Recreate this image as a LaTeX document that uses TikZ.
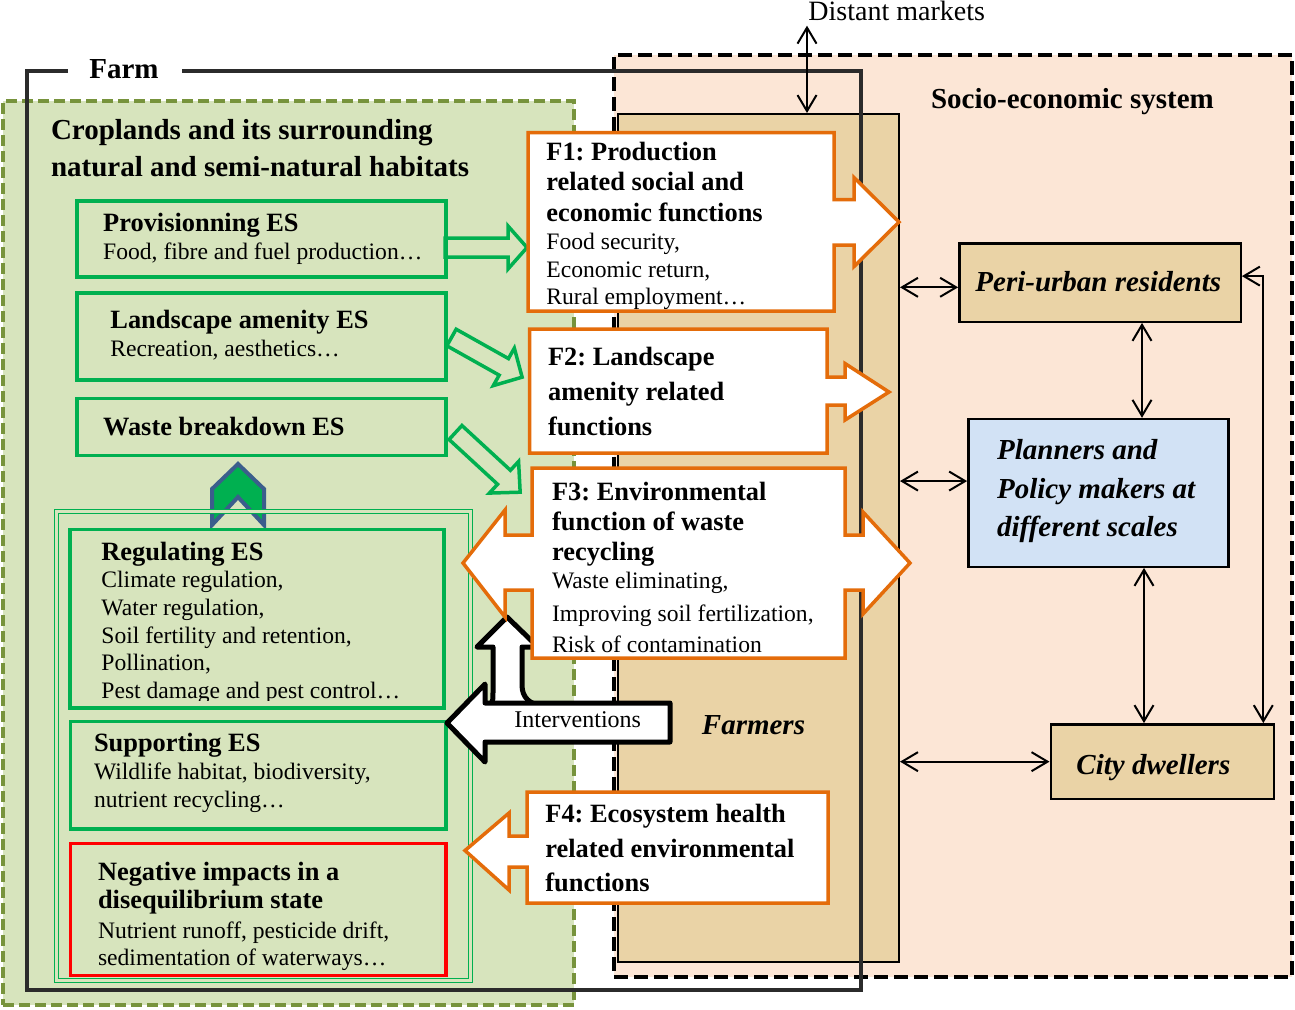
\documentclass[tikz,border=0pt]{standalone}
\usepackage{fontspec}
\setmainfont{Liberation Serif}
\usetikzlibrary{arrows.meta,fit,calc}
\definecolor{cropfill}{HTML}{D7E4BD}
\definecolor{cropline}{HTML}{77933C}
\definecolor{sociofill}{HTML}{FCE6D6}
\definecolor{tanfill}{HTML}{EAD3A6}
\definecolor{bluefill}{HTML}{D2E2F5}
\definecolor{esgreen}{HTML}{00B050}
\definecolor{forange}{HTML}{E46C0A}
\definecolor{chevblue}{HTML}{3B5E8C}
\definecolor{farmline}{HTML}{2B2B2B}
\frenchspacing
\begin{document}
\begin{tikzpicture}[x=0.5pt,y=-0.5pt,
  gbox/.style={draw=esgreen,line width=1.75pt,inner sep=0pt},
  redbox/.style={draw=red,line width=1.75pt,inner sep=0pt},
  actorbox/.style={draw=black,line width=1.2pt,inner sep=0pt},
  fshape/.style={draw=forange,fill=white,line width=1.75pt,line join=miter},
  garrow/.style={draw=esgreen,line width=1.75pt,line join=miter},
  blackarrow/.style={draw=black,fill=white,line width=2.5pt,line join=round},
  dbl/.style={{Straight Barb[length=8pt,width=9.5pt]}-{Straight Barb[length=8pt,width=9.5pt]},line width=1pt},
  headf/.style={font=\fontsize{13.2}{15}\selectfont\bfseries\frenchspacing,anchor=base west,inner sep=0pt},
  bodyf/.style={font=\fontsize{11.8}{14}\selectfont\frenchspacing,anchor=base west,inner sep=0pt},
  titlef/.style={font=\fontsize{14.5}{17}\selectfont\bfseries\frenchspacing,anchor=base west,inner sep=0pt},
  rlab/.style={font=\fontsize{14.5}{17}\selectfont\bfseries\itshape\frenchspacing,anchor=base west,inner sep=0pt}]
\useasboundingbox (0,0) rectangle (1295,1009);

% croplands area
\node[fit={(3,101) (574,1005)},inner sep=0pt,fill=cropfill,draw=cropline,line width=2pt,dash pattern=on 5.5pt off 2.5pt] (crop) {};
% socio-economic system
\node[fit={(614,55) (1292,977)},inner sep=0pt,fill=sociofill,draw=black,line width=2pt,dash pattern=on 7pt off 3pt] (socio) {};
% farmers column
\node[fit={(618,114) (899,962)},inner sep=0pt,fill=tanfill,draw=black,line width=1pt] (farmers) {};
% farm box
\draw[farmline,line width=2.25pt] (68,71) -- (27,71) -- (27,990) -- (861,990) -- (861,71) -- (182,71);
\node[titlef] (farmlab) at (89,78.3) {Farm};

% titles
\node[titlef] (crop1) at (50.6,139.3) {Croplands and its surrounding};
\node[titlef] (crop2) at (50.6,176.7) {natural and semi-natural habitats};
\node[titlef] (socio1) at (930.7,108.3) {Socio-economic system};

% ES boxes
\node[fit={(77,201) (446,277)},gbox] (prov) {};
\node[headf] (prov1) at (102.8,231.7) {Provisionning ES};
\node[bodyf] (prov2) at (102.8,259.3) {Food, fibre and fuel production…};
\node[fit={(77,293) (446,380)},gbox] (land) {};
\node[headf] (land1) at (110,328.3) {Landscape amenity ES};
\node[bodyf] (land2) at (110,356) {Recreation, aesthetics…};
\node[fit={(77,398.5) (446,455.5)},gbox] (waste) {};
\node[headf] (waste1) at (102.7,435) {Waste breakdown ES};

% chevron
\draw[draw=chevblue,fill=esgreen,line width=2pt,line join=miter] (212,525) -- (212,489) -- (238,464) -- (264,489) -- (264,525) -- (238,497) -- cycle;

% group box (double line)
\node[fit={(56.5,511.5) (470.5,980.5)},inner sep=0pt,draw=esgreen,double=cropfill,line width=0.7pt,double distance=1.3pt] (esgroup) {};

\node[headf] (reg0) at (101,560) {Regulating ES};
\node[bodyf] (reg1) at (101,587.7) {Climate regulation,};
\node[bodyf] (reg2) at (101,615.7) {Water regulation,};
\node[bodyf] (reg3) at (101,643.3) {Soil fertility and retention,};
\node[bodyf] (reg4) at (101,670.7) {Pollination,};
\begin{scope}
\clip (70,529) rectangle (444,700.5);
\node[bodyf] (reg5) at (101,698.3) {Pest damage and pest control…};
\end{scope}
\node[fit={(70,529.5) (444,708)},gbox] (reg) {};

\node[fit={(70.5,721.5) (446,829)},gbox] (sup) {};
\node[headf] (sup0) at (93.6,751.7) {Supporting ES};
\node[bodyf] (sup1) at (93.6,779.3) {Wildlife habitat, biodiversity,};
\node[bodyf] (sup2) at (93.6,807.3) {nutrient recycling…};

\node[fit={(70.5,843.5) (446,975.5)},redbox] (neg) {};
\node[headf] (neg0) at (97.6,880) {Negative impacts in a};
\node[headf] (neg1) at (97.6,908.3) {disequilibrium state};
\node[bodyf] (neg2) at (97.6,938.3) {Nutrient runoff, pesticide drift,};
\node[bodyf] (neg3) at (97.6,965.7) {sedimentation of waterways…};

% green hollow arrows
\draw[garrow,shift={(445,247.5)}] (0,-9.5) -- (63,-9.5) -- (63,-21.5) -- (82,0) -- (63,21.5) -- (63,9.5) -- (0,9.5) -- cycle;
\draw[garrow,shift={(451.5,337.5)},rotate=-29.3] (0,-9.5) -- (60,-9.5) -- (60,-21.5) -- (81,0) -- (60,21.5) -- (60,9.5) -- (0,9.5) -- cycle;
\draw[garrow,shift={(455.5,432.5)},rotate=-42.7] (0,-9.5) -- (66,-9.5) -- (66,-21.5) -- (88,0) -- (66,21.5) -- (66,9.5) -- (0,9.5) -- cycle;

% actors
\node[fit={(959.3,243.3) (1240.7,321.7)},actorbox,fill=tanfill] (peri) {};
\node[rlab] (peri1) at (975,291.5) {Peri-urban residents};
\node[fit={(968.3,419) (1228.3,566.7)},actorbox,fill=bluefill] (plan) {};
\node[rlab] (plan1) at (996.7,459.5) {Planners and};
\node[rlab] (plan2) at (996.7,498) {Policy makers at};
\node[rlab] (plan3) at (996.7,536.5) {different scales};
\node[fit={(1050.7,724.3) (1274,799)},actorbox,fill=tanfill] (city) {};
\node[rlab] (city1) at (1076,774.3) {City dwellers};
\node[rlab] (farm1) at (701.5,734) {Farmers};

% distant markets
\node[font=\fontsize{14}{16}\selectfont,anchor=base west,inner sep=0pt] (dm) at (808,20) {Distant markets};
\coordinate (dmx) at (807,0);
\draw[dbl] ([yshift=-2.5pt]dm.south -| dmx) -- (farmers.north -| dmx);

% actor connectors
\coordinate (ax1) at (1142,0);
\coordinate (ax2) at (1144,0);
\coordinate (ax3) at (1263.3,0);
\coordinate (pw) at ([yshift=-2.4pt]peri.west);
\coordinate (plw) at ([yshift=5.9pt]plan.west);
\coordinate (pe) at ([yshift=3.2pt]peri.east);
\draw[dbl] (pw -| farmers.east) -- (pw);
\draw[dbl] (plw -| farmers.east) -- (plw);
\draw[dbl] (city.west -| farmers.east) -- (city.west);
\draw[dbl] (peri.south -| ax1) -- (plan.north -| ax1);
\draw[dbl] (plan.south -| ax2) -- (city.north -| ax2);
\draw[dbl] (pe) -| (city.north -| ax3);

% interventions
\draw[blackarrow] (488,706) .. controls (493,702) .. (493,690) -- (493,647) -- (477,647) -- (507,617) -- (538,647) -- (522,647) -- (522,685) .. controls (522,698) and (530,704) .. (542,706);
\draw[blackarrow] (670,703) -- (670,742) -- (485,742) -- (485,762) -- (447,723) -- (485,684) -- (485,703) -- cycle;
\node[font=\fontsize{12}{14}\selectfont,anchor=base west,inner sep=0pt] (interv) at (514,727.3) {Interventions};

% F1
\draw[fshape] (528,132.5) -- (834,132.5) -- (834,199.5) -- (854,199.5) -- (854,177.5) -- (899,222) -- (854,266.5) -- (854,245) -- (834,245) -- (834,311) -- (528,311) -- cycle;
\node[headf] (f1a) at (546,160.7) {F1: Production};
\node[headf] (f1b) at (546,190.7) {related social and};
\node[headf] (f1c) at (546,221.7) {economic functions};
\node[bodyf] (f1d) at (546,249) {Food security,};
\node[bodyf] (f1e) at (546,277.7) {Economic return,};
\node[bodyf] (f1f) at (546,304) {Rural employment…};
% F2
\draw[fshape] (529.5,329) -- (827,329) -- (827,377) -- (845,377) -- (845,363.5) -- (889,392) -- (845,420) -- (845,405) -- (827,405) -- (827,453) -- (529.5,453) -- cycle;
\node[headf] (f2a) at (547.7,365) {F2: Landscape};
\node[headf] (f2b) at (547.7,400) {amenity related};
\node[headf] (f2c) at (547.7,435) {functions};
% F3
\draw[fshape] (532,468) -- (845,468) -- (845,535) -- (863,535) -- (863,512) -- (910,563) -- (863,614) -- (863,590) -- (845,590) -- (845,658) -- (532,658) -- (532,590) -- (505,590) -- (505,617) -- (463,563) -- (505,510) -- (505,535) -- (532,535) -- cycle;
\node[headf] (f3a) at (551.7,500) {F3: Environmental};
\node[headf] (f3b) at (551.7,530) {function of waste};
\node[headf] (f3c) at (551.7,560.7) {recycling};
\node[bodyf] (f3d) at (551.7,588.3) {Waste eliminating,};
\node[bodyf] (f3e) at (551.7,621.7) {Improving soil fertilization,};
\node[bodyf] (f3f) at (551.7,652.3) {Risk of contamination};
% F4
\draw[fshape] (527,792) -- (828,792) -- (828,903) -- (527,903) -- (527,867) -- (509,867) -- (509,890) -- (465,850.5) -- (509,813) -- (509,836) -- (527,836) -- cycle;
\node[headf] (f4a) at (545,822.7) {F4: Ecosystem health};
\node[headf] (f4b) at (545,857.3) {related environmental};
\node[headf] (f4c) at (545,891.7) {functions};
\end{tikzpicture}
\end{document}
